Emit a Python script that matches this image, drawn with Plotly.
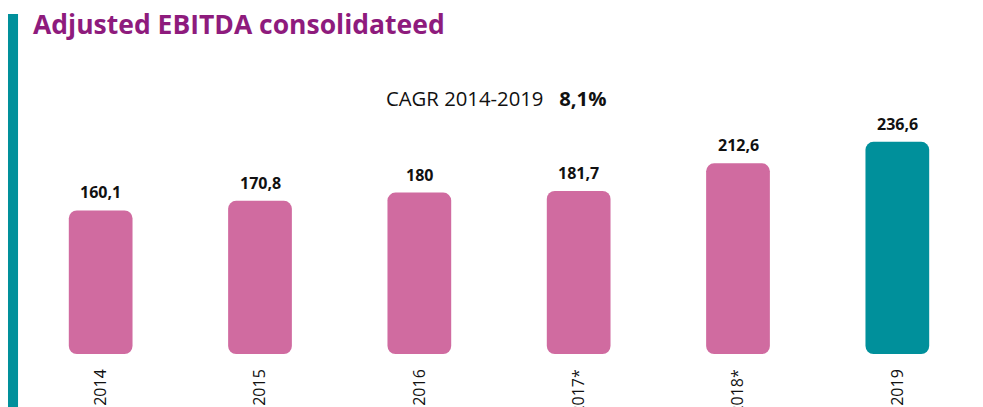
import plotly.graph_objects as go

years = ["2014", "2015", "2016", "2017*", "2018*", "2019"]
ebitda = [160.1, 170.8, 180.0, 181.7, 212.6, 236.6]
value_labels = ["160,1", "170,8", "180", "181,7", "212,6", "236,6"]
bar_colors = ["#D06BA0", "#D06BA0", "#D06BA0", "#D06BA0", "#D06BA0", "#00909B"]

title_text = "Adjusted EBITDA consolidateed"
cagr_label = "CAGR 2014-2019"
cagr_value = "8,1%"

FONT = "Open Sans"

fig = go.Figure()
fig.add_trace(go.Bar(
    x=years, y=ebitda, base=[0] * len(ebitda),
    marker=dict(color=bar_colors, cornerradius=8, line=dict(width=0)),
    width=0.4, hoverinfo="skip", showlegend=False,
))

annotations = []
for i, (v, lab) in enumerate(zip(ebitda, value_labels)):
    annotations.append(dict(
        x=i, y=v, xref="x", yref="y", text="<b>" + lab + "</b>",
        showarrow=False, yanchor="bottom", yshift=5,
        font=dict(family=FONT, size=16, color="#111111"),
    ))

annotations.append(dict(
    x=0.01046, y=1.299, xref="paper", yref="paper", text="<b>" + title_text + "</b>",
    showarrow=False, xanchor="left", yanchor="middle",
    font=dict(family=FONT, size=26.5, color="#8E1B7D"),
))
annotations.append(dict(
    x=0.4965, y=1.008, xref="paper", yref="paper",
    text=cagr_label + "\u00a0\u00a0\u00a0<b>" + cagr_value + "</b>",
    showarrow=False, xanchor="center", yanchor="middle",
    font=dict(family=FONT, size=20.3, color="#111111"),
))

fig.update_layout(
    width=983, height=407,
    margin=dict(l=21, r=6, t=100, b=53, autoexpand=False),
    paper_bgcolor="white", plot_bgcolor="white",
    annotations=annotations,
    shapes=[dict(type="rect", xref="paper", yref="paper",
                 x0=-0.0136, x1=-0.0031, y0=-0.3, y1=1.3386,
                 fillcolor="#00909B", line=dict(width=0))],
    xaxis=dict(
        type="category", range=[-0.5, 5.5], showgrid=False, zeroline=False,
        showline=False, ticks="", tickangle=-90, automargin=False,
        ticklabelstandoff=11,
        tickfont=dict(family=FONT, size=16, color="#111111"),
    ),
    yaxis=dict(range=[0, 283.2], visible=False, showgrid=False, zeroline=False),
)

fig.write_html("out.html", config={"displayModeBar": False},
               post_script="document.body.style.margin='0px';")
